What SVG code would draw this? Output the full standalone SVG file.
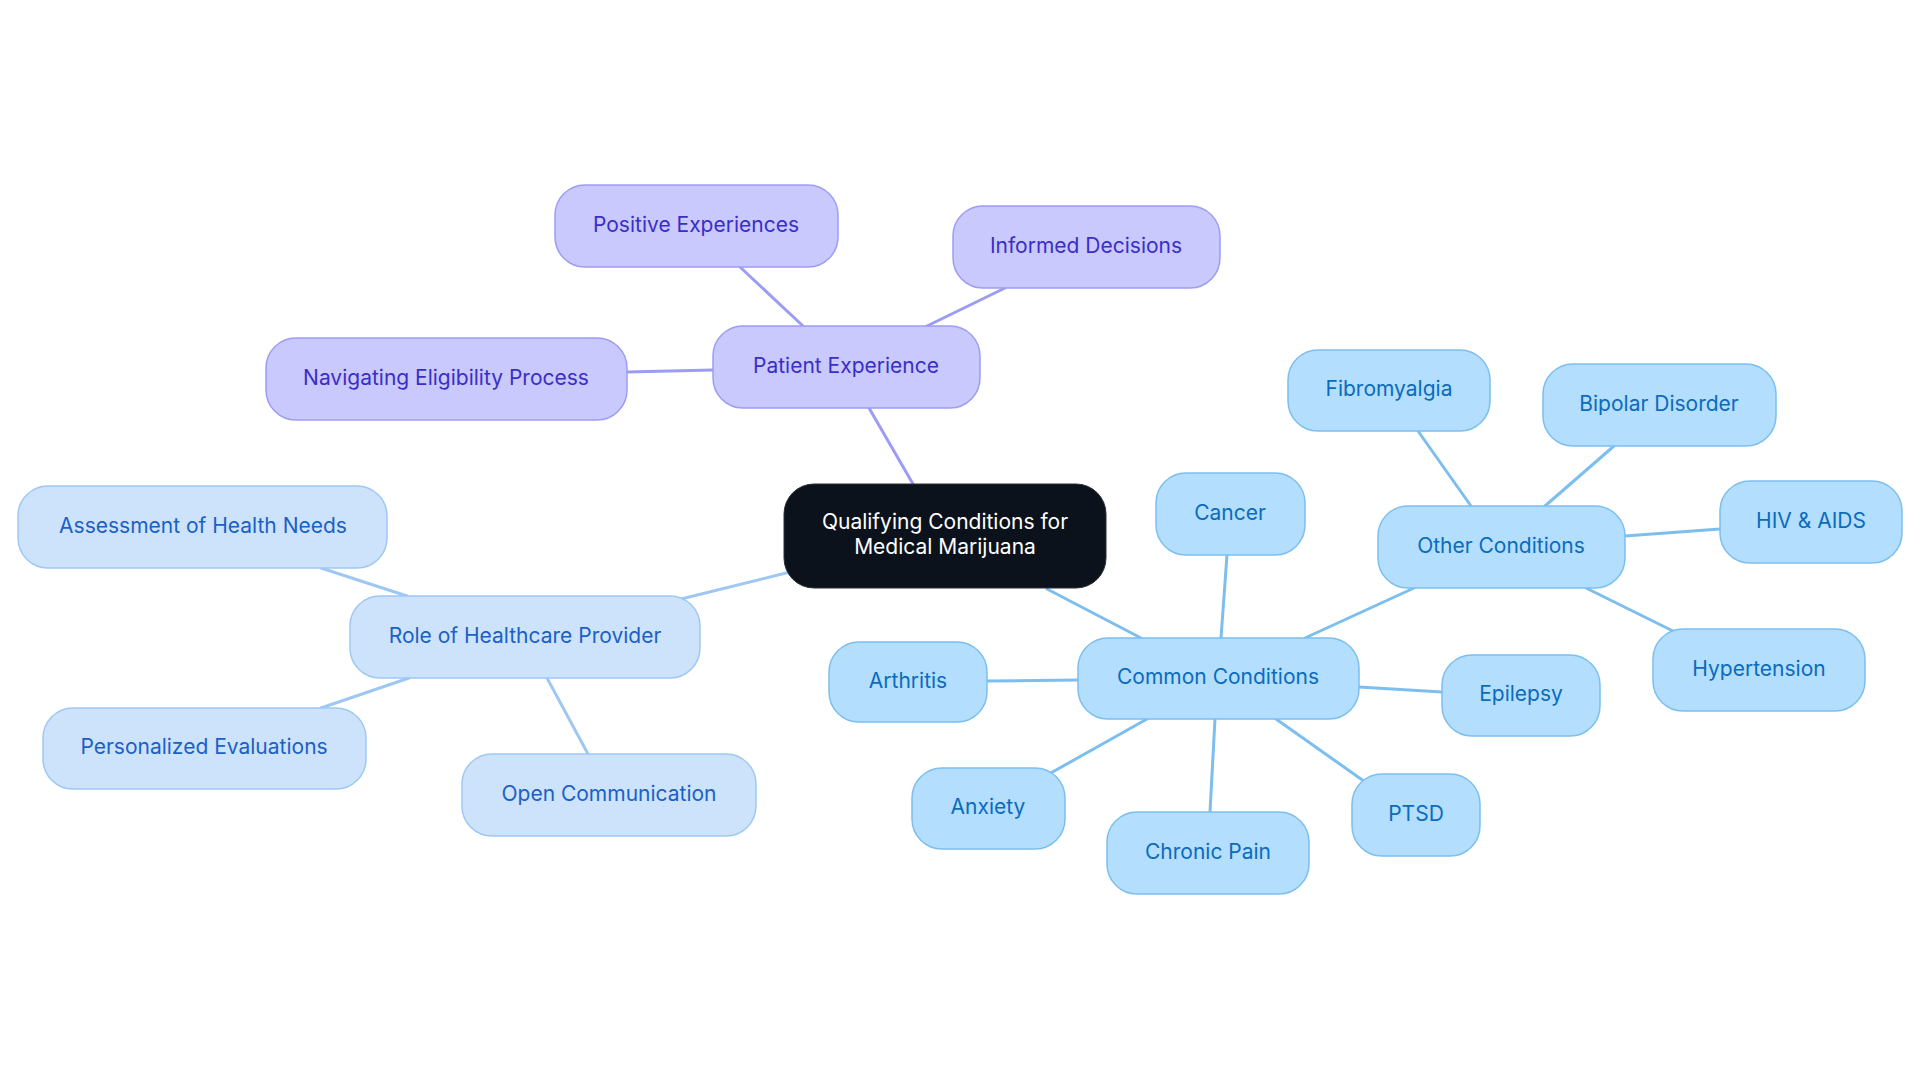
<svg xmlns="http://www.w3.org/2000/svg" width="1920" height="1083" viewBox="0 0 1920 1083">
<style>
text{font-family:Inter,"Noto Sans","Liberation Sans",sans-serif;font-size:21px;text-anchor:middle;dominant-baseline:central}
.e{fill:none;stroke-width:3;stroke-linecap:round}
.ep{stroke:#9d9cf5}.eh{stroke:#9ec8f3}.ec{stroke:#7cbfef}
.np rect{fill:#c9c9fd;stroke:#9d9cf5;stroke-width:1.5}
.np text{fill:#3a2ec8}
.nh rect{fill:#cde3fb;stroke:#9ec8f3;stroke-width:1.5}
.nh text{fill:#1b60c6}
.nc rect{fill:#b3defd;stroke:#7cbfef;stroke-width:1.5}
.nc text{fill:#0b6bbd}
</style>
<rect width="1920" height="1083" fill="#ffffff"/>
<g id="connectors">
<line class="e ep" x1="913" y1="484" x2="869" y2="408"/>
<line class="e ep" x1="803" y1="326" x2="740" y2="267"/>
<line class="e ep" x1="927" y1="326" x2="1005" y2="288"/>
<line class="e ep" x1="713" y1="370" x2="627" y2="372"/>
<line class="e eh" x1="790" y1="572" x2="677" y2="600"/>
<line class="e eh" x1="407" y1="596" x2="321" y2="568"/>
<line class="e eh" x1="409" y1="678" x2="321" y2="708"/>
<line class="e eh" x1="547" y1="678" x2="588" y2="754"/>
<line class="e ec" x1="1047" y1="589" x2="1141" y2="638"/>
<line class="e ec" x1="1221" y1="638" x2="1227" y2="555"/>
<line class="e ec" x1="1078" y1="680" x2="987" y2="681"/>
<line class="e ec" x1="1359" y1="687" x2="1442" y2="692"/>
<line class="e ec" x1="1147" y1="719" x2="1049" y2="774"/>
<line class="e ec" x1="1215" y1="719" x2="1210" y2="812"/>
<line class="e ec" x1="1276" y1="719" x2="1368" y2="784"/>
<line class="e ec" x1="1305" y1="638" x2="1414" y2="588"/>
<line class="e ec" x1="1471" y1="506" x2="1418" y2="431"/>
<line class="e ec" x1="1545" y1="506" x2="1614" y2="446"/>
<line class="e ec" x1="1625" y1="536" x2="1720" y2="529"/>
<line class="e ec" x1="1586" y1="588" x2="1679" y2="634"/>
</g>
<g id="central">
<rect x="784" y="484" width="322" height="104" rx="30" fill="#0c121b" stroke="#2a2f36" stroke-width="1"/>
<text x="945" y="521" fill="#ffffff">Qualifying Conditions for</text>
<text x="945" y="546" fill="#ffffff">Medical Marijuana</text>
</g>
<g id="patient-experience" class="np"><rect x="713" y="326" width="267" height="82" rx="30"/><text x="846" y="365">Patient Experience</text></g>
<g id="positive-experiences" class="np"><rect x="555" y="185" width="283" height="82" rx="30"/><text x="696" y="224">Positive Experiences</text></g>
<g id="informed-decisions" class="np"><rect x="953" y="206" width="267" height="82" rx="30"/><text x="1086" y="245">Informed Decisions</text></g>
<g id="navigating-eligibility" class="np"><rect x="266" y="338" width="361" height="82" rx="30"/><text x="446" y="377">Navigating Eligibility Process</text></g>
<g id="role-healthcare" class="nh"><rect x="350" y="596" width="350" height="82" rx="30"/><text x="525" y="635">Role of Healthcare Provider</text></g>
<g id="assessment" class="nh"><rect x="18" y="486" width="369" height="82" rx="30"/><text x="203" y="525">Assessment of Health Needs</text></g>
<g id="personalized" class="nh"><rect x="43" y="708" width="323" height="81" rx="30"/><text x="204" y="746">Personalized Evaluations</text></g>
<g id="open-communication" class="nh"><rect x="462" y="754" width="294" height="82" rx="30"/><text x="609" y="793">Open Communication</text></g>
<g id="common-conditions" class="nc"><rect x="1078" y="638" width="281" height="81" rx="30"/><text x="1218" y="676">Common Conditions</text></g>
<g id="cancer" class="nc"><rect x="1156" y="473" width="149" height="82" rx="30"/><text x="1230" y="512">Cancer</text></g>
<g id="arthritis" class="nc"><rect x="829" y="642" width="158" height="80" rx="30"/><text x="908" y="680">Arthritis</text></g>
<g id="epilepsy" class="nc"><rect x="1442" y="655" width="158" height="81" rx="30"/><text x="1521" y="693">Epilepsy</text></g>
<g id="anxiety" class="nc"><rect x="912" y="768" width="153" height="81" rx="30"/><text x="988" y="806">Anxiety</text></g>
<g id="chronic-pain" class="nc"><rect x="1107" y="812" width="202" height="82" rx="30"/><text x="1208" y="851">Chronic Pain</text></g>
<g id="ptsd" class="nc"><rect x="1352" y="774" width="128" height="82" rx="30"/><text x="1416" y="813">PTSD</text></g>
<g id="other-conditions" class="nc"><rect x="1378" y="506" width="247" height="82" rx="30"/><text x="1501" y="545">Other Conditions</text></g>
<g id="fibromyalgia" class="nc"><rect x="1288" y="350" width="202" height="81" rx="30"/><text x="1389" y="388">Fibromyalgia</text></g>
<g id="bipolar-disorder" class="nc"><rect x="1543" y="364" width="233" height="82" rx="30"/><text x="1659" y="403">Bipolar Disorder</text></g>
<g id="hiv-aids" class="nc"><rect x="1720" y="481" width="182" height="82" rx="30"/><text x="1811" y="520">HIV &amp; AIDS</text></g>
<g id="hypertension" class="nc"><rect x="1653" y="629" width="212" height="82" rx="30"/><text x="1759" y="668">Hypertension</text></g>
</svg>
